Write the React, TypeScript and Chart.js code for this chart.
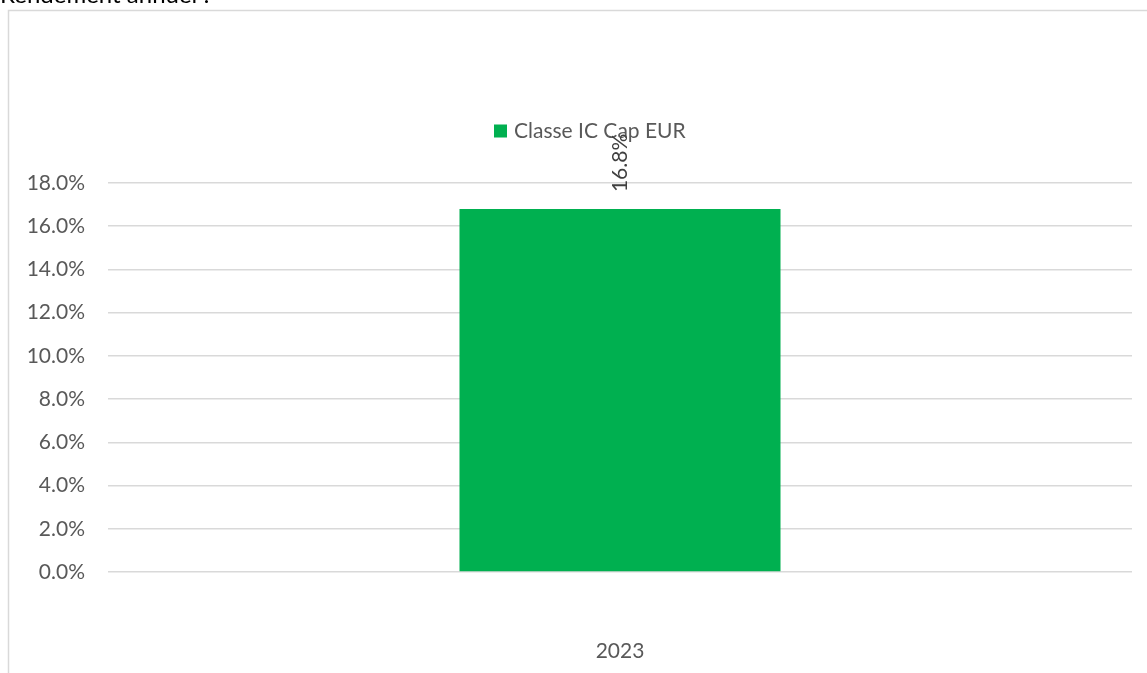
import { useEffect, useRef } from "react";
import { Chart, registerables } from "chart.js";

Chart.register(...registerables);

const chartTitle = "Rendement annuel :";
const categories = ["2023"];
const seriesName = "Classe IC Cap EUR";
const seriesValues = [16.8];
const yMin = 0;
const yMax = 18;
const yStep = 2;

const FONT = "Lato, 'Open Sans', sans-serif";
const GREEN = "#00B050";
const TEXT = "#595959";
const GRID = "#d9d9d9";

const decorPlugin = {
  id: "decor",
  beforeDraw(chart: any) {
    const { ctx } = chart;
    ctx.save();
    ctx.fillStyle = "#ffffff";
    ctx.fillRect(0, 0, chart.width, chart.height);
    ctx.strokeStyle = GRID;
    ctx.lineWidth = 1.5;
    ctx.strokeRect(8.5, 10.5, chart.width + 20, chart.height + 20);
    ctx.fillStyle = "#000000";
    ctx.font = `24px ${FONT}`;
    ctx.textAlign = "left";
    ctx.textBaseline = "alphabetic";
    ctx.fillText(chartTitle, 0, 3);
    ctx.restore();
  },
  afterDatasetsDraw(chart: any) {
    const { ctx } = chart;
    const meta = chart.getDatasetMeta(0);
    ctx.save();
    // legend
    const lx = 494;
    const ly = 131;
    ctx.fillStyle = GREEN;
    ctx.fillRect(lx, ly - 6.5, 13, 13);
    ctx.fillStyle = TEXT;
    ctx.font = `21px ${FONT}`;
    ctx.textAlign = "left";
    ctx.textBaseline = "middle";
    ctx.fillText(seriesName, lx + 20, ly);
    // data labels (rotated)
    meta.data.forEach((bar: any, i: number) => {
      const v = seriesValues[i];
      ctx.save();
      ctx.translate(bar.x, bar.y - 46);
      ctx.rotate(-Math.PI / 2);
      ctx.fillStyle = "#404040";
      ctx.font = `21px ${FONT}`;
      ctx.textAlign = "center";
      ctx.textBaseline = "middle";
      ctx.fillText(v.toFixed(1) + "%", 0, 0);
      ctx.restore();
    });
    ctx.restore();
  },
};

export default function App() {
  const ref = useRef<HTMLCanvasElement | null>(null);
  useEffect(() => {
    if (!ref.current) return;
    const chart = new Chart(ref.current, {
      type: "bar",
      data: {
        labels: categories,
        datasets: [
          {
            label: seriesName,
            data: seriesValues,
            backgroundColor: GREEN,
            borderWidth: 0,
            categoryPercentage: 1,
            barPercentage: 0.3135,
          },
        ],
      },
      options: {
        animation: false,
        responsive: false,
        devicePixelRatio: 1,
        layout: { padding: { left: 0, top: 183, right: 15, bottom: 0 } },
        plugins: {
          legend: { display: false },
          tooltip: { enabled: false },
          title: { display: false },
        },
        scales: {
          x: {
            grid: { display: false, drawTicks: false },
            border: { display: false },
            ticks: {
              color: TEXT,
              font: { family: FONT, size: 21 },
              padding: 67,
            },
            afterFit(s: any) {
              s.height = 101;
            },
          },
          y: {
            min: yMin,
            max: yMax,
            grid: { color: GRID, lineWidth: 1.5, drawTicks: false },
            border: { display: false },
            ticks: {
              stepSize: yStep,
              color: TEXT,
              font: { family: FONT, size: 21 },
              padding: 23,
              callback: (v: any) => Number(v).toFixed(1) + "%",
            },
            afterFit(s: any) {
              s.width = 108;
            },
          },
        },
      },
      plugins: [decorPlugin],
    });
    return () => chart.destroy();
  }, []);
  return (
    <div style={{ position: "absolute", left: 0, top: 0, width: 1147, height: 673, background: "#fff" }}>
      <canvas ref={ref} width={1147} height={673} style={{ display: "block" }} />
    </div>
  );
}
